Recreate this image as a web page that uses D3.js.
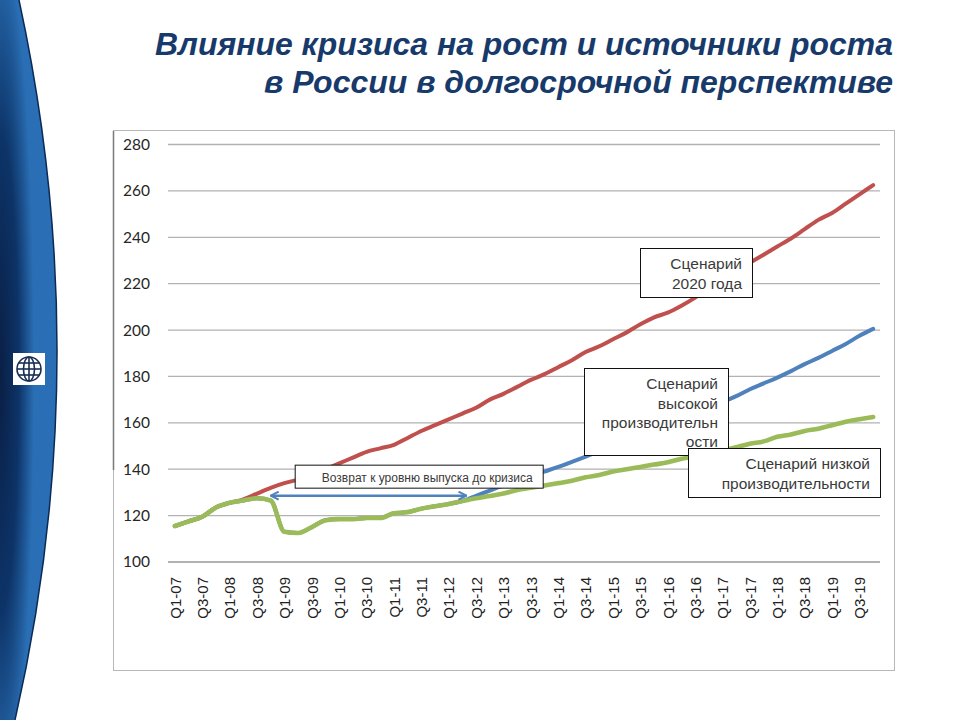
<!DOCTYPE html>
<html><head><meta charset="utf-8">
<script src="https://cdn.jsdelivr.net/npm/d3@7"></script>
<style>
html,body{margin:0;padding:0;background:#fff;}
svg{display:block;}
</style></head>
<body>
<svg id="c" width="960" height="720"></svg>
<script>
// ---------- DATA ----------
const titleLines = ["Влияние кризиса на рост и источники роста", "в России в долгосрочной перспективе"];
const quarters = [
 "Q1-07","Q2-07","Q3-07","Q4-07","Q1-08","Q2-08","Q3-08","Q4-08","Q1-09","Q2-09","Q3-09","Q4-09",
 "Q1-10","Q2-10","Q3-10","Q4-10","Q1-11","Q2-11","Q3-11","Q4-11","Q1-12","Q2-12","Q3-12","Q4-12",
 "Q1-13","Q2-13","Q3-13","Q4-13","Q1-14","Q2-14","Q3-14","Q4-14","Q1-15","Q2-15","Q3-15","Q4-15",
 "Q1-16","Q2-16","Q3-16","Q4-16","Q1-17","Q2-17","Q3-17","Q4-17","Q1-18","Q2-18","Q3-18","Q4-18",
 "Q1-19","Q2-19","Q3-19","Q4-19"];
const shownTicks = quarters.filter(q => q.startsWith("Q1") || q.startsWith("Q3"));
const yTicks = [100,120,140,160,180,200,220,240,260,280];
const scenario2020 = [115.5,117.5,119.5,123.5,125.5,127,129.5,132,134,135.5,137.5,140,
 142.5,145,147.5,149,150.5,153.5,156.5,159,161.5,164,166.5,170,
 172.5,175.5,178.5,181,184,187,190.5,193,196,199,202.5,205.5,
 207.5,210.5,214,218,221.5,225.5,229,232.5,236,239.5,243.5,247.5,
 250.5,254.5,258.5,262.5];
const scenarioHigh = [115.5,117.5,119.5,123.5,125.5,126.5,127.5,126.5,113,112.5,115,118,
 118.5,118.5,119,119,121,121.5,123,124,125,126.3,128.5,130.8,
 133,135,137,139,141,143.2,145.4,147.8,150.2,152.5,154.8,157.2,
 159.5,162,164.5,167,169,171.5,174.5,177,179.5,182.3,185.3,188,
 191,194,197.5,200.5];
const scenarioLow = [115.5,117.5,119.5,123.5,125.5,126.5,127.5,126.5,113,112.5,115,118,
 118.5,118.5,119,119,121,121.5,123,124,125,126.3,127.5,128.5,
 129.5,131,132,133,134,135,136.5,137.5,139,140,141,142,
 143,144.5,145.5,146.5,148,149.5,151,152,154,155,156.5,157.5,
 159,160.5,161.5,162.5];
const seriesNames = ["Сценарий 2020 года","Сценарий высокой производительности","Сценарий низкой производительности"];
const seriesColors = ["#C0504D","#4F81BD","#9BBB59"];
const labelBoxes = [
  {lines:["Сценарий","2020 года"], at:"Q1-16", v:235.4},
  {lines:["Сценарий","высокой","производительн","ости"], at:"Q2-14", v:183.7},
  {lines:["Сценарий низкой","производительности"], at:"Q2-16", v:149.2}
];
const recoveryText = "Возврат к уровню выпуска до кризиса";
const recoveryFrom = "Q4-08", recoveryTo = "Q2-12", recoveryValue = 128.6;

// ---------- DRAW ----------
const svg = d3.select("#c");
const defs = svg.append("defs");

// left decoration
const g1 = defs.append("radialGradient").attr("id","lg").attr("cx","0").attr("cy","0.52").attr("r","0.6");
g1.append("stop").attr("offset","0").attr("stop-color","#0a1f45");
g1.append("stop").attr("offset","0.55").attr("stop-color","#0d3468");
g1.append("stop").attr("offset","1").attr("stop-color","#2a6fb5");
svg.append("path").attr("d","M0,0 L19,0 Q97,360 15,720 L0,720 Z").attr("fill","url(#lg)");
svg.append("path").attr("d","M19,0 Q97,360 15,720").attr("fill","none").attr("stroke","#0b2a55").attr("stroke-width",1.5);
// logo
svg.append("rect").attr("x",13).attr("y",353).attr("width",32).attr("height",32).attr("fill","#fff");
const lg = svg.append("g").attr("transform","translate(29,369)").attr("fill","none").attr("stroke","#1a2f55").attr("stroke-width",1.6);
lg.append("circle").attr("r",12);
lg.append("ellipse").attr("rx",5.5).attr("ry",12);
lg.append("line").attr("x1",0).attr("x2",0).attr("y1",-12).attr("y2",12);
lg.append("line").attr("x1",-12).attr("x2",12).attr("y1",0).attr("y2",0);
lg.append("line").attr("x1",-10.4).attr("x2",10.4).attr("y1",-6).attr("y2",-6);
lg.append("line").attr("x1",-10.4).attr("x2",10.4).attr("y1",6).attr("y2",6);

// title
const title = svg.append("g");
[[titleLines[0],55,155],[titleLines[1],93,264]].forEach(([t,yy,x0])=>{
  title.append("text").attr("x",893).attr("y",yy).attr("text-anchor","end")
    .attr("font-family","'Liberation Sans Narrow','Arial Narrow','Liberation Sans',Arial,sans-serif")
    .attr("font-weight","bold").attr("font-style","italic").attr("font-size",31)
    .attr("fill","#173a6b").attr("textLength",893-x0).attr("lengthAdjust","spacingAndGlyphs").text(t);
});

// chart frame
svg.append("rect").attr("x",113.5).attr("y",130.5).attr("width",781).attr("height",540)
  .attr("fill","#fff").attr("stroke","#b8b8b8").attr("stroke-width",1);
svg.append("line").attr("x1",113.5).attr("x2",113.5).attr("y1",131).attr("y2",470).attr("stroke","#7a7a7a").attr("stroke-width",1.5);

const x = d3.scalePoint().domain(quarters).range([168,880]).padding(0.5);
const y = d3.scaleLinear().domain([100,280]).range([562,144.5]);

// gridlines
svg.append("g").selectAll("line").data(yTicks).join("line")
  .attr("x1",168).attr("x2",880).attr("y1",d=>y(d)).attr("y2",d=>y(d))
  .attr("stroke","#b2b2b2").attr("stroke-width",d=>d===100?2:1.3);

// y axis labels
const yAxis = d3.axisLeft(y).tickValues(yTicks).tickSize(0).tickPadding(0);
const ya = svg.append("g").attr("transform","translate(150,0)").call(yAxis);
ya.select(".domain").remove();
ya.selectAll("text").attr("font-family","Lato,'Open Sans',sans-serif").attr("font-size",15.5).attr("fill","#262626");

// x axis labels
const xAxis = d3.axisBottom(x).tickValues(shownTicks).tickSize(0);
const xa = svg.append("g").attr("transform","translate(0,562)").call(xAxis);
xa.select(".domain").remove();
xa.selectAll("text").attr("font-family","'Liberation Sans',Arial,sans-serif").attr("font-size",15).attr("fill","#222")
  .attr("text-anchor","end").attr("transform","rotate(-90)").attr("x",-15).attr("y",0).attr("dy","0.35em");

// lines
const line = d3.line().x((d,i)=>x(quarters[i])).y(d=>y(d)).curve(d3.curveMonotoneX);
const allSeries = [scenario2020, scenarioHigh, scenarioLow];
svg.append("g").selectAll("path").data(allSeries).join("path")
  .attr("d",d=>line(d)).attr("fill","none")
  .attr("stroke",(d,i)=>seriesColors[i]).attr("stroke-width",(d,i)=>i===2?4.6:4)
  .attr("stroke-linejoin","round").attr("stroke-linecap","round");

// recovery arrow
const mk = (id,orient)=>{
  defs.append("marker").attr("id",id).attr("viewBox","0 0 10 10").attr("refX",orient==="end"?9:1).attr("refY",5)
   .attr("markerWidth",4).attr("markerHeight",4).attr("markerUnits","strokeWidth").attr("orient","auto")
   .append("path").attr("d",orient==="end"?"M1,1 L9,5 L1,9":"M9,1 L1,5 L9,9").attr("fill","none")
   .attr("stroke","#4F81BD").attr("stroke-width",2);
};
mk("ah1","start"); mk("ah2","end");
svg.append("line").attr("x1",x(recoveryFrom)).attr("x2",x(recoveryTo)+x.step()*0.3)
  .attr("y1",y(recoveryValue)).attr("y2",y(recoveryValue))
  .attr("stroke","#4F81BD").attr("stroke-width",2.5)
  .attr("marker-start","url(#ah1)").attr("marker-end","url(#ah2)");
// recovery text box
const rbx = x(recoveryFrom)+24, rby = y(recoveryValue)-31;
svg.append("rect").attr("x",rbx+0.5).attr("y",rby+0.5).attr("width",248).attr("height",23)
  .attr("fill","#fff").attr("stroke","#111").attr("stroke-width",1);
svg.append("text").attr("x",rbx+238).attr("y",rby+17).attr("text-anchor","end")
  .attr("font-family","'Liberation Sans',Arial,sans-serif").attr("font-size",12).attr("fill","#3a3a3a").text(recoveryText);

// scenario label boxes
const boxSizes = [[112,49],[144,87],[192,49]];
const boxOffsets = [-28,12,7];
const lineOffsets = [[21,40.5],[21,40.5,60,79],[21,41]];
labelBoxes.forEach((b,i)=>{
  const bx = Math.round(x(b.at)+boxOffsets[i]), by = Math.round(y(b.v));
  const [w,h] = boxSizes[i];
  svg.append("rect").attr("x",bx+0.5).attr("y",by+0.5).attr("width",w).attr("height",h)
    .attr("fill","#fff").attr("stroke","#111").attr("stroke-width",1);
  const t = svg.append("text").attr("text-anchor","end").attr("font-family","'Liberation Sans',Arial,sans-serif")
    .attr("font-size",15.5).attr("fill","#3a3a3a");
  b.lines.forEach((ln,k)=>{
    t.append("tspan").attr("x",bx+w-10).attr("y",by+lineOffsets[i][k]).text(ln);
  });
});
</script>
</body></html>
